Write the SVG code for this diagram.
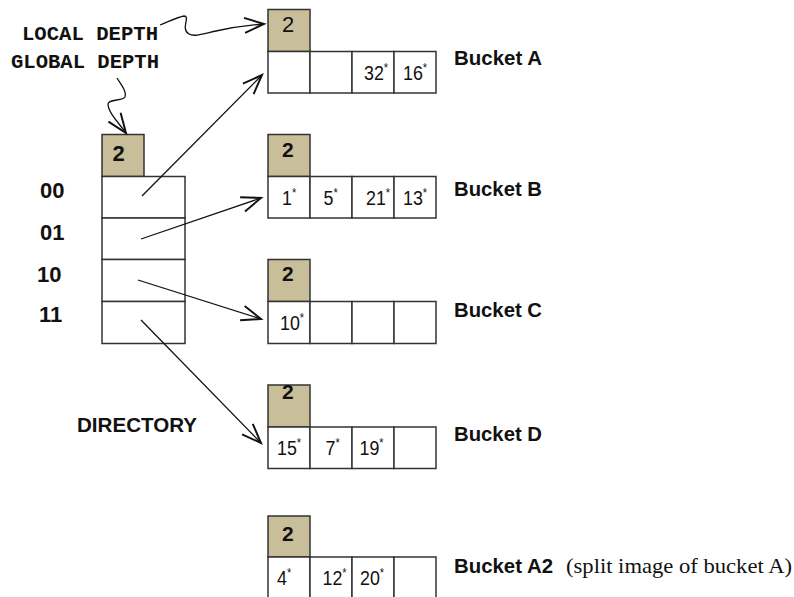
<svg xmlns="http://www.w3.org/2000/svg" width="794" height="597" viewBox="0 0 794 597">
<style>
.hdr{fill:#C8BF9A;stroke:#333;stroke-width:1.5}
.cell{fill:#fff;stroke:#333;stroke-width:1.5}
.num{font-family:"Liberation Sans",Arial,sans-serif;font-size:21px;fill:#111}
.sup{font-size:13px}
.hd{font-family:"Liberation Sans",Arial,sans-serif;font-size:21px;font-weight:bold;fill:#111}
.hn{font-family:"Liberation Sans",Arial,sans-serif;font-size:22px;fill:#111}
.lbl{font-family:"Liberation Sans",Arial,sans-serif;font-size:20px;font-weight:bold;fill:#111}
.bin{font-family:"Liberation Sans",Arial,sans-serif;font-size:22px;font-weight:bold;fill:#111}
.mono{font-family:"Liberation Mono","Courier New",monospace;font-size:20px;font-weight:bold;fill:#111}
.serif{font-family:"Liberation Serif","Times New Roman",serif;font-size:22px;fill:#111}
.conn{fill:none;stroke:#111;stroke-width:1.3}
</style>
<defs>
<marker id="arr" markerUnits="userSpaceOnUse" markerWidth="24" markerHeight="24" viewBox="-14 -8 16 16" refX="0" refY="0" orient="auto">
<path d="M-13,-5 L0,0 L-13,5" fill="none" stroke="#111" stroke-width="1.3"/>
</marker>
</defs>
<rect width="794" height="597" fill="#fff"/>

<g id="local-depth-label"><text class="mono" x="22" y="40" textLength="136" lengthAdjust="spacingAndGlyphs">LOCAL DEPTH</text></g>
<g id="global-depth-label"><text class="mono" x="11" y="67.5" textLength="148" lengthAdjust="spacingAndGlyphs">GLOBAL DEPTH</text></g>

<g id="directory">
<rect class="hdr" x="102" y="134.5" width="42" height="42"/>
<text class="hd" x="112.5" y="161" style="font-size:22px">2</text>
<rect class="cell" x="102" y="176.5" width="83" height="41.5"/>
<rect class="cell" x="102" y="218" width="83" height="41.5"/>
<rect class="cell" x="102" y="259.5" width="83" height="42"/>
<rect class="cell" x="102" y="301.5" width="83" height="42"/>
<text class="bin" x="40" y="198">00</text>
<text class="bin" x="40" y="240">01</text>
<text class="bin" x="37" y="281.5">10</text>
<text class="bin" x="39" y="322">11</text>
<text class="lbl" x="77" y="431.5" textLength="120" lengthAdjust="spacingAndGlyphs">DIRECTORY</text>
</g>

<g id="bucket-a">
<rect class="hdr" x="268" y="9.5" width="42" height="42"/>
<text class="hn" x="282" y="31.5">2</text>
<rect class="cell" x="268" y="51.5" width="42" height="41.5"/>
<rect class="cell" x="310" y="51.5" width="42" height="41.5"/>
<rect class="cell" x="352" y="51.5" width="42" height="41.5"/>
<rect class="cell" x="394" y="51.5" width="42" height="41.5"/>
<text class="num" transform="translate(364,80) scale(0.85,1)">32<tspan class="sup" dy="-8">*</tspan></text>
<text class="num" transform="translate(403,80) scale(0.85,1)">16<tspan class="sup" dy="-8">*</tspan></text>
<text class="lbl" x="454" y="65" textLength="88" lengthAdjust="spacingAndGlyphs">Bucket A</text>
</g>

<g id="bucket-b">
<rect class="hdr" x="268" y="134.5" width="42" height="42"/>
<text class="hd" x="282" y="157">2</text>
<rect class="cell" x="268" y="176.5" width="42" height="41.5"/>
<rect class="cell" x="310" y="176.5" width="42" height="41.5"/>
<rect class="cell" x="352" y="176.5" width="42" height="41.5"/>
<rect class="cell" x="394" y="176.5" width="42" height="41.5"/>
<text class="num" transform="translate(282,204.5) scale(0.85,1)">1<tspan class="sup" dy="-8">*</tspan></text>
<text class="num" transform="translate(323.5,204.5) scale(0.85,1)">5<tspan class="sup" dy="-8">*</tspan></text>
<text class="num" transform="translate(366,204.5) scale(0.85,1)">21<tspan class="sup" dy="-8">*</tspan></text>
<text class="num" transform="translate(403,204.5) scale(0.85,1)">13<tspan class="sup" dy="-8">*</tspan></text>
<text class="lbl" x="454" y="195.5" textLength="88" lengthAdjust="spacingAndGlyphs">Bucket B</text>
</g>

<g id="bucket-c">
<rect class="hdr" x="268" y="259.5" width="42" height="42"/>
<text class="hd" x="282" y="281">2</text>
<rect class="cell" x="268" y="301.5" width="42" height="42"/>
<rect class="cell" x="310" y="301.5" width="42" height="42"/>
<rect class="cell" x="352" y="301.5" width="42" height="42"/>
<rect class="cell" x="394" y="301.5" width="42" height="42"/>
<text class="num" transform="translate(280,330) scale(0.85,1)">10<tspan class="sup" dy="-8">*</tspan></text>
<text class="lbl" x="454" y="317" textLength="88" lengthAdjust="spacingAndGlyphs">Bucket C</text>
</g>

<g id="bucket-d">
<rect class="hdr" x="268" y="385" width="42" height="42"/>
<text class="hd" x="282" y="399">2</text>
<rect class="cell" x="268" y="427" width="42" height="41.5"/>
<rect class="cell" x="310" y="427" width="42" height="41.5"/>
<rect class="cell" x="352" y="427" width="42" height="41.5"/>
<rect class="cell" x="394" y="427" width="42" height="41.5"/>
<text class="num" transform="translate(277,455) scale(0.85,1)">15<tspan class="sup" dy="-8">*</tspan></text>
<text class="num" transform="translate(325.5,455) scale(0.85,1)">7<tspan class="sup" dy="-8">*</tspan></text>
<text class="num" transform="translate(359.5,455) scale(0.85,1)">19<tspan class="sup" dy="-8">*</tspan></text>
<text class="lbl" x="454" y="440.5" textLength="88" lengthAdjust="spacingAndGlyphs">Bucket D</text>
</g>

<g id="bucket-a2">
<rect class="hdr" x="268" y="516" width="42" height="41"/>
<text class="hd" x="282" y="540.5">2</text>
<rect class="cell" x="268" y="557" width="42" height="42"/>
<rect class="cell" x="310" y="557" width="42" height="42"/>
<rect class="cell" x="352" y="557" width="42" height="42"/>
<rect class="cell" x="394" y="557" width="42" height="42"/>
<text class="num" transform="translate(277,584.5) scale(0.85,1)">4<tspan class="sup" dy="-8">*</tspan></text>
<text class="num" transform="translate(322.5,584.5) scale(0.85,1)">12<tspan class="sup" dy="-8">*</tspan></text>
<text class="num" transform="translate(360,584.5) scale(0.85,1)">20<tspan class="sup" dy="-8">*</tspan></text>
<text class="lbl" x="454" y="572.5" textLength="99" lengthAdjust="spacingAndGlyphs">Bucket A2</text>
<text class="serif" x="566" y="572.5" textLength="226" lengthAdjust="spacingAndGlyphs">(split image of bucket A)</text>
</g>

<g id="connectors">
<path class="conn" marker-end="url(#arr)" d="M160,25 C170,21 178,17 184,16 C191,16 180,29 189,34 C194,37 203,34 216,31 C234,27 250,25 264,24"/>
<path class="conn" marker-end="url(#arr)" d="M117,78 C122,86 127,92 125,97 C123,101 108,99 108,104 C108,112 118,122 126,133"/>
<line class="conn" marker-end="url(#arr)" x1="142" y1="196" x2="262" y2="75"/>
<line class="conn" marker-end="url(#arr)" x1="141" y1="239" x2="261" y2="198"/>
<line class="conn" marker-end="url(#arr)" x1="138" y1="280" x2="261" y2="319"/>
<line class="conn" marker-end="url(#arr)" x1="141" y1="320" x2="261" y2="443"/>
</g>
</svg>
